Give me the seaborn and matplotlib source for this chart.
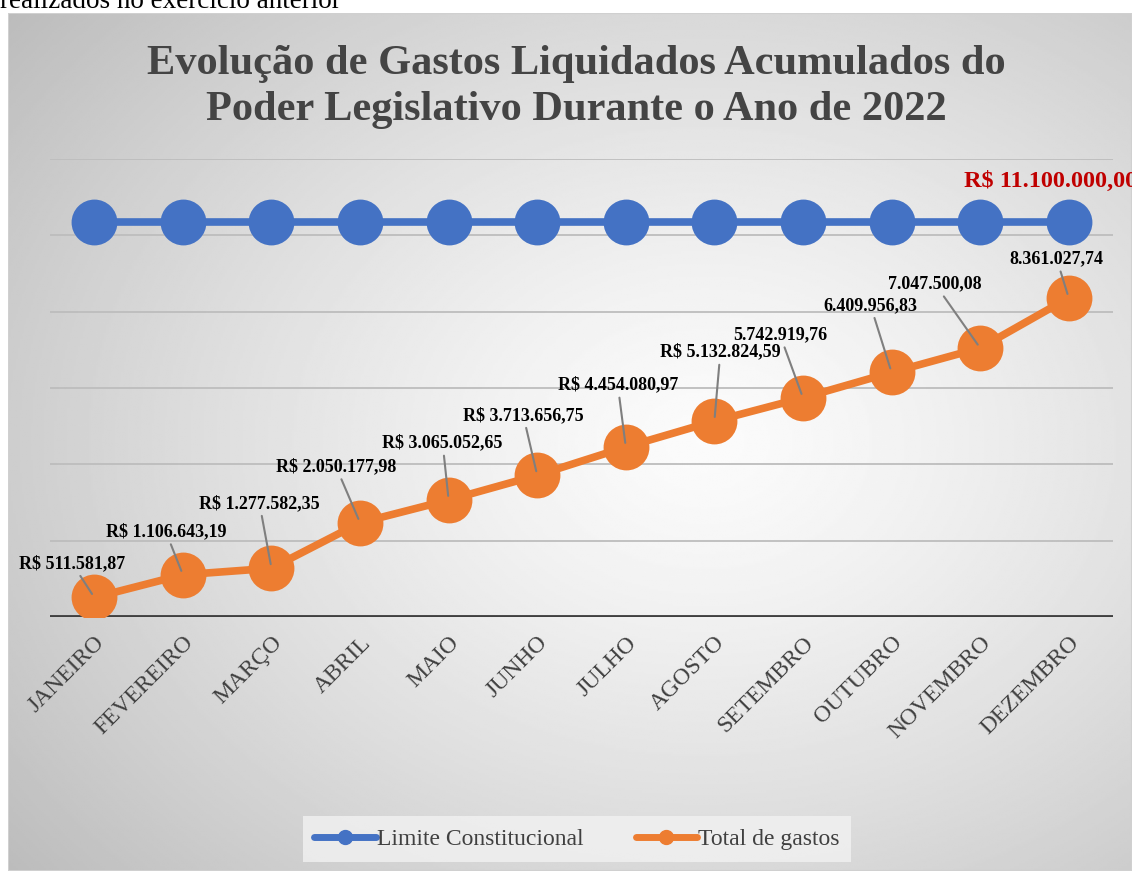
import numpy as np
import pandas as pd
import matplotlib
matplotlib.use('Agg')
import matplotlib.pyplot as plt
from matplotlib.lines import Line2D
from matplotlib.patches import Rectangle
import seaborn as sns

# data
months = ['JANEIRO', 'FEVEREIRO', 'MARÇO', 'ABRIL', 'MAIO', 'JUNHO',
          'JULHO', 'AGOSTO', 'SETEMBRO', 'OUTUBRO', 'NOVEMBRO', 'DEZEMBRO']
limite = [11100000.00] * 12
total_gastos = [511581.87, 1106643.19, 1277582.35, 2470000.00, 3065052.65, 3713656.75,
                4454080.97, 5132824.59, 5742919.76, 6409956.83, 7047500.08, 8361027.74]
total_labels = ['R$ 511.581,87', 'R$ 1.106.643,19', 'R$ 1.277.582,35', 'R$ 2.050.177,98',
                'R$ 3.065.052,65', 'R$ 3.713.656,75', 'R$ 4.454.080,97', 'R$ 5.132.824,59',
                '5.742.919,76', '6.409.956,83', '7.047.500,08', '8.361.027,74']
limite_label = 'R$ 11.100.000,00'

# label offsets (pixels from the point)
label_offsets = [(-22, 34), (-17, 43), (-12, 65), (-24, 56), (-6, 57), (-14, 60),
                 (-8, 62), (6, 69), (-23, 63), (-21, 67), (-45, 64), (-12, 39)]

df = pd.DataFrame({'pos': np.arange(len(months)), 'mes': months,
                   'limite': limite, 'total': total_gastos})

W, H = 1132, 871
fig = plt.figure(figsize=(W / 100, H / 100), dpi=100)
fig.patch.set_facecolor('white')

# gradient background of the chart area
bg = fig.add_axes([8 / W, 0, 1 - 8 / W, (H - 13) / H], zorder=-5)
yy, xx = np.mgrid[0:1:400j, 0:1:520j]
r = np.sqrt(((xx - 0.62) / 0.75) ** 2 + ((yy - 0.5) / 0.75) ** 2)
shade = np.clip(0.985 - 0.23 * r ** 1.3, 0.72, 1)
bg.imshow(shade, cmap='gray', vmin=0, vmax=1, aspect='auto', extent=[0, 1, 0, 1])
bg.add_patch(Rectangle((0, 0), 1, 1, transform=bg.transAxes, fill=False,
                       edgecolor='#d0d0d0', lw=1.5))
bg.set_axis_off()

serif = ['Liberation Serif', 'DejaVu Serif']

ax = fig.add_axes([50 / W, (H - 617) / H, (1113 - 50) / W, (617 - 159) / H])
ax.set_facecolor('none')

sns.lineplot(data=df, x='pos', y='total', ax=ax, color='#ED7D31', lw=5.5,
             marker='o', markersize=33, markeredgewidth=0, zorder=3)

ax2 = ax.twinx()
sns.lineplot(data=df, x='pos', y='limite', ax=ax2, color='#4472C4', lw=5.5,
             marker='o', markersize=33, markeredgewidth=0, zorder=3)
ax2.set_ylim(0, 12870000)
ax2.set_axis_off()

ax.set_xlim(-0.5, 11.5)
ax.set_ylim(0, 12000000)
ax.set_yticks(np.arange(2000000, 12000001, 2000000))
ax.grid(axis='y', color='#bdbdbd', lw=1.3)
ax.grid(axis='x', visible=False)
ax.set_axisbelow(True)
for s in ax.spines.values():
    s.set_visible(False)
ax.axhline(0, color='#404040', lw=3.5, zorder=1.5)

ax.set_xticks(df['pos'])
ax.set_xticklabels(months, rotation=45, ha='right', rotation_mode='anchor',
                   family=serif, fontsize=17, color='#404040')
ax.tick_params(axis='y', left=False, labelleft=False, length=0)
ax.tick_params(axis='x', bottom=False, length=0, pad=11)
ax.set_xlabel('')
ax.set_ylabel('')

for i, (v, lab) in enumerate(zip(total_gastos, total_labels)):
    dx, dy = label_offsets[i]
    ax.annotate(lab, xy=(i, v), xytext=(dx, dy), textcoords='offset pixels',
                ha='center', va='center', family=serif, fontsize=13,
                fontweight='bold', color='black', zorder=5,
                arrowprops=dict(arrowstyle='-', color='#7f7f7f', lw=1.5,
                                shrinkA=1, shrinkB=3))

ax2.annotate(limite_label, xy=(11, limite[11]), xytext=(-18, 41),
             textcoords='offset pixels', ha='center', va='center',
             family=serif, fontsize=17.5, fontweight='bold', color='#C00000',
             annotation_clip=False)

fig.text(576 / W, 1 - 87 / H,
         'Evolução de Gastos Liquidados Acumulados do\nPoder Legislativo Durante o Ano de 2022',
         ha='center', va='center', family=serif, fontsize=30.5, fontweight='bold',
         color='#444444', linespacing=1.3)

fig.text(0, 1 - 8 / H, 'realizados no exercício anterior', ha='left', va='baseline',
         family=serif, fontsize=19.5, color='black')

handles = [Line2D([], [], color='#4472C4', lw=5, marker='o', markersize=10,
                  solid_capstyle='round'),
           Line2D([], [], color='#ED7D31', lw=5, marker='o', markersize=10,
                  solid_capstyle='round')]
leg = fig.legend(handles, ['Limite Constitucional', 'Total de gastos'],
                 loc='center', bbox_to_anchor=(577 / W, 1 - 839 / H), ncol=2,
                 frameon=True, fancybox=False, handlelength=2.6, handletextpad=0.05,
                 columnspacing=2.2, borderpad=0.5, borderaxespad=0,
                 prop={'family': serif, 'size': 17})
leg.get_frame().set_facecolor('#f2f2f2')
leg.get_frame().set_edgecolor('none')
for t in leg.get_texts():
    t.set_color('#404040')

fig.savefig('out.png', dpi=100)
